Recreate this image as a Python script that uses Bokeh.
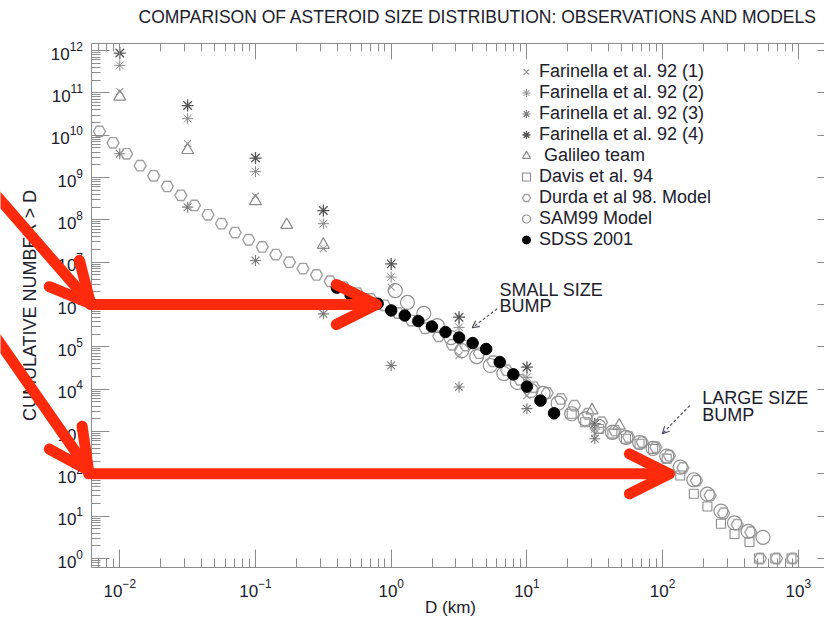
import numpy as np
from bokeh.plotting import figure
from bokeh.models import (LogAxis, FixedTicker, Arrow, OpenHead, Label, Legend,
                          LegendItem, Range1d, LogTickFormatter, CustomJSTickFormatter,
                          LogScale)
from bokeh.embed import file_html
from bokeh.resources import INLINE

# ---------------- data (log10 values) ----------------
far_logd = [-2.0, -1.5, -1.0, -0.5, 0.0, 0.5, 1.0, 1.5]
far1_logn = [11.03, 9.80, 8.56, 7.32, 6.41, 4.80, 3.85, 2.95]
far2_logn = [11.65, 10.39, 9.14, 7.91, 6.65, 5.46, 4.28, 3.06]
far3_logn = [9.56, 8.30, 7.04, 5.78, 4.56, 4.05, 3.54, 2.83]
far4_logn = [11.94, 10.70, 9.46, 8.22, 6.96, 5.70, 4.52, 3.18]

gal_logd = [-2.0, -1.5, -1.0, -0.77, -0.5, 1.48, 1.68]
gal_logn = [10.91, 9.65, 8.44, 7.88, 7.41, 3.50, 3.14]

davis_logd = [1.33, 1.43, 1.53, 1.63, 1.73, 1.83, 1.93, 2.03, 2.13, 2.23, 2.33,
              2.43, 2.53, 2.64, 2.71, 2.83, 2.95]
davis_logn = [3.42, 3.22, 3.06, 2.95, 2.83, 2.71, 2.59, 2.36, 1.96, 1.53, 1.23,
              0.82, 0.58, 0.39, 0.0, 0.0, 0.0]

durda_logd = [-2.15, -2.05, -1.95, -1.85, -1.75, -1.65, -1.55, -1.45, -1.35, -1.25,
              -1.15, -1.05, -0.95, -0.85, -0.75, -0.65, -0.55, -0.45, -0.35, -0.25,
              -0.15, -0.05, 0.05, 0.15, 0.25, 0.35, 0.45, 0.55, 0.65, 0.75,
              0.85, 0.95, 1.05, 1.15, 1.25, 1.35, 1.45, 1.55, 1.65, 1.75,
              1.85, 1.95, 2.05, 2.15, 2.25, 2.35, 2.45, 2.55, 2.65, 2.72, 2.84, 2.96]
durda_logn = [10.09, 9.82, 9.56, 9.28, 9.04, 8.79, 8.58, 8.34, 8.12, 7.91,
              7.70, 7.53, 7.36, 7.18, 7.00, 6.85, 6.70, 6.55, 6.41, 6.27,
              6.13, 5.98, 5.80, 5.62, 5.44, 5.25, 5.05, 5.03, 4.85, 4.66,
              4.45, 4.22, 4.05, 3.91, 3.77, 3.61, 3.42, 3.22, 3.02, 2.87,
              2.75, 2.63, 2.43, 2.14, 1.84, 1.49, 1.07, 0.80, 0.62, 0.0, 0.0, 0.0]

sam_logd = [0.03, 0.12, 0.24, 0.34, 0.44, 0.52, 0.63, 0.73, 0.83, 0.93, 1.03,
            1.12, 1.23, 1.33, 1.43, 1.53, 1.63, 1.73, 1.83, 1.93, 2.03, 2.13,
            2.23, 2.33, 2.43, 2.53, 2.63, 2.74]
sam_logn = [6.33, 6.05, 5.79, 5.50, 5.22, 4.91, 4.77, 4.56, 4.37, 4.16, 3.97,
            3.90, 3.67, 3.42, 3.30, 3.12, 2.98, 2.86, 2.74, 2.60, 2.42, 2.16,
            1.86, 1.52, 1.12, 0.84, 0.64, 0.50]

sdss_logd = [-0.4, -0.3, -0.2, -0.1, 0.0, 0.1, 0.2, 0.3, 0.4, 0.5, 0.6, 0.7,
             0.8, 0.9, 1.0, 1.1, 1.2]
sdss_logn = [6.40, 6.24, 6.13, 6.02, 5.86, 5.74, 5.61, 5.48, 5.35, 5.22, 5.09,
             4.95, 4.64, 4.35, 4.06, 3.73, 3.43]

legend_labels = ["Farinella et al. 92 (1)", "Farinella et al. 92 (2)",
                 "Farinella et al. 92 (3)", "Farinella et al. 92 (4)",
                 " Galileo team", "Davis et al. 94", "Durda et al 98. Model",
                 "SAM99 Model", "SDSS 2001"]

x_major = [1e-2, 1e-1, 1e0, 1e1, 1e2, 1e3]
y_major = [10.0 ** k for k in range(0, 13)]

TITLE = "COMPARISON OF ASTEROID SIZE DISTRIBUTION: OBSERVATIONS AND MODELS"
X_LABEL = "D (km)"
Y_LABEL = "CUMULATIVE NUMBER > D"
FONT = "Liberation Sans"
GRAY = "#8c8c8c"
RED = "#ff2a0c"
INK = "#20202c"


def p10(a):
    return [10.0 ** v for v in a]


# view (whole canvas) and axes box, in log10 units
view_x = (-2.879, 3.193)
view_y = (-1.488, 13.182)
box_x = (-2.205, 3.273)
box_y = (-0.213, 12.166)

p = figure(width=824, height=621, x_axis_type=None, y_axis_type=None,
           x_range=Range1d(10 ** view_x[0], 10 ** view_x[1]),
           y_range=Range1d(10 ** view_y[0], 10 ** view_y[1]),
           output_backend="svg", toolbar_location=None, title=None,
           min_border=0)
p.x_scale = LogScale()
p.y_scale = LogScale()
p.outline_line_color = None
p.background_fill_color = "white"
p.border_fill_color = "white"

bx = (10 ** box_x[0], 10 ** box_x[1])
by = (10 ** box_y[0], 10 ** box_y[1])
all_minors = [m * 10.0 ** e for e in range(-3, 13) for m in range(2, 10)]
x_minors = [v for v in all_minors if bx[0] <= v <= bx[1]]
y_minors = [v for v in all_minors if by[0] <= v <= by[1]]
blank = CustomJSTickFormatter(code="return ''")


def make_axis(major, minors, bounds, loc, tin=18, min_in=9, labels=True):
    ax = LogAxis(fixed_location=loc, bounds=bounds)
    ax.ticker = FixedTicker(ticks=major, minor_ticks=minors)
    ax.major_tick_in = tin
    ax.major_tick_out = 0
    ax.minor_tick_in = min_in
    ax.minor_tick_out = 0
    ax.major_tick_line_color = GRAY
    ax.minor_tick_line_color = GRAY
    ax.axis_line_color = GRAY
    ax.major_label_text_font = FONT
    ax.major_label_text_font_size = "17px"
    ax.major_label_text_color = INK
    if labels:
        ax.formatter = LogTickFormatter()
    else:
        ax.formatter = blank
        ax.major_label_text_font_size = "2px"
    return ax


xb = make_axis(x_major, x_minors, bx, by[0])
xb.major_label_standoff = 11
p.add_layout(xb, "below")

yl = make_axis(y_major, y_minors, by, bx[0])
yl.major_label_standoff = 9
p.add_layout(yl, "left")

xt = make_axis(x_major, x_minors, bx, by[1], tin=16, min_in=8, labels=False)
p.add_layout(xt, "above")

yr = make_axis(y_major, y_minors, by, bx[1], tin=18, min_in=9, labels=False)
p.add_layout(yr, "right")

# titles as labels
p.add_layout(Label(x=10 ** -1.862, y=10 ** 12.80, text=TITLE, text_font=FONT,
                   text_font_size="17.5px", text_color=INK,
                   text_baseline="alphabetic"))
p.add_layout(Label(x=10 ** 0.437, y=10 ** -1.158, text=X_LABEL, text_font=FONT,
                   text_font_size="17px", text_color=INK,
                   text_align="center", text_baseline="middle"))
p.add_layout(Label(x=10 ** -2.658, y=10 ** 5.977, text=Y_LABEL, text_font=FONT,
                   text_font_size="18px", text_color=INK, angle=np.pi / 2,
                   text_align="center", text_baseline="middle"))

# ---------------- data glyphs ----------------
r_f1 = p.scatter(p10(far_logd), p10(far1_logn), marker="x", size=10,
                 line_color="#9a9a9a", line_width=1.1)
r_f2 = p.scatter(p10(far_logd), p10(far2_logn), marker="asterisk", size=11,
                 line_color="#8a8a8a", line_width=1.0)
r_f3 = p.scatter(p10(far_logd), p10(far3_logn), marker="asterisk", size=11,
                 line_color="#7a7a7a", line_width=1.1)
r_f4 = p.scatter(p10(far_logd), p10(far4_logn), marker="asterisk", size=12,
                 line_color="#555555", line_width=1.3)
r_gal = p.scatter(p10(gal_logd), p10(gal_logn), marker="triangle", size=12,
                  fill_color=None, line_color=GRAY, line_width=1.2)
r_dav = p.scatter(p10(davis_logd), p10(davis_logn), marker="square", size=9,
                  fill_color=None, line_color=GRAY, line_width=1.1)
r_dur = p.scatter(p10(durda_logd), p10(durda_logn), marker="hex", size=12,
                  fill_color=None, line_color="#a0a0a0", line_width=1.4)
r_sam = p.scatter(p10(sam_logd), p10(sam_logn), marker="circle", size=14,
                  fill_color=None, line_color="#909090", line_width=1.2)
r_sdss = p.scatter(p10(sdss_logd), p10(sdss_logn), marker="circle", size=11.5,
                   fill_color="black", line_color="black")

renderers = [r_f1, r_f2, r_f3, r_f4, r_gal, r_dav, r_dur, r_sam, r_sdss]
legend = Legend(items=[LegendItem(label=l, renderers=[r])
                       for l, r in zip(legend_labels, renderers)],
                location=(516, 371), padding=0, spacing=0, margin=0,
                glyph_width=20, glyph_height=21, label_standoff=3,
                label_text_font=FONT, label_text_font_size="18px",
                label_text_color=INK, label_height=21,
                border_line_color=None, background_fill_alpha=0)
p.add_layout(legend)

# ---------------- text annotations ----------------
for txt, lx, ly in [("SMALL SIZE", 0.798, 6.34), ("BUMP", 0.798, 5.965),
                    ("LARGE SIZE", 2.292, 3.78), ("BUMP", 2.292, 3.40)]:
    p.add_layout(Label(x=10 ** lx, y=10 ** ly, text=txt, text_font=FONT,
                       text_font_size="18px", text_color=INK,
                       text_baseline="alphabetic"))

for (x0, y0, x1, y1) in [(0.781, 5.90, 0.597, 5.45), (2.20, 3.614, 1.997, 2.946)]:
    p.add_layout(Arrow(x_start=10 ** x0, y_start=10 ** y0, x_end=10 ** x1,
                       y_end=10 ** y1, line_color="#444455", line_width=1.1,
                       line_dash="3 2",
                       end=OpenHead(size=7, line_color="#444455", line_width=1.1)))

# ---------------- red highlight arrows ----------------
red_arrows = [(-2.916, 8.60, -2.215, 6.02), (-2.215, 6.0, -0.11, 6.0),
              (-2.916, 5.24, -2.23, 2.08), (-2.23, 2.0, 2.05, 2.0)]
for (x0, y0, x1, y1) in red_arrows:
    p.add_layout(Arrow(x_start=10 ** x0, y_start=10 ** y0, x_end=10 ** x1,
                       y_end=10 ** y1, line_color=RED, line_width=11,
                       line_cap="round",
                       end=OpenHead(size=40, line_color=RED, line_width=11,
                                    line_cap="round", line_join="round")))

open("out.html", "w").write(file_html(p, INLINE))
